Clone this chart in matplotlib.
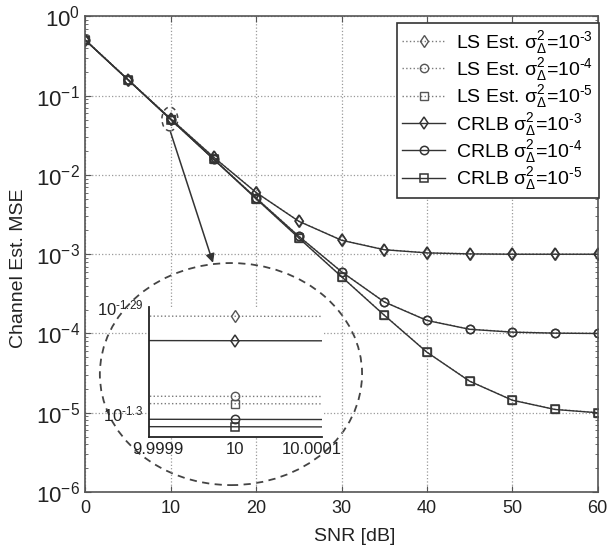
#!/usr/bin/env python3

import matplotlib
matplotlib.use('Agg')
import matplotlib.pyplot as plt
import matplotlib.ticker as ticker
from matplotlib.patches import Ellipse
import numpy as np

plt.rcParams.update({
    'font.family': ['Liberation Sans', 'DejaVu Sans'],
    'mathtext.fontset': 'custom',
    'mathtext.rm': 'Liberation Sans',
    'mathtext.it': 'Liberation Sans',
    'mathtext.sf': 'Liberation Sans',
    'xtick.direction': 'in',
    'ytick.direction': 'in',
})

# SNR grid [dB]
snr = [0, 5, 10, 15, 20, 25, 30, 35, 40, 45, 50, 55, 60]

# LS estimator MSE for the three error variances
ls_3 = [0.503, 0.160, 0.05118, 0.0169, 0.00603, 0.00261, 0.00151, 0.001145,
        0.001045, 0.001015, 0.001005, 0.001003, 0.001001]
ls_4 = [0.502, 0.159, 0.05030, 0.0160, 0.00513, 0.00169, 0.000603, 0.000251,
        0.000147, 0.0001135, 0.0001045, 0.0001015, 0.0001005]
ls_5 = [0.502, 0.159, 0.05022, 0.0159, 0.00503, 0.00161, 0.000523, 0.000171,
        5.83e-5, 2.51e-5, 1.446e-5, 1.105e-5, 1.005e-5]

# Cramer-Rao lower bounds
crlb_3 = [0.501, 0.159, 0.05091, 0.0168, 0.0060, 0.0026, 0.00150, 0.00114,
          0.00104, 0.00101, 0.00100, 0.00100, 0.00100]
crlb_4 = [0.500, 0.158, 0.05005, 0.0159, 0.0051, 0.00168, 0.00060, 0.00025,
          0.000146, 0.000113, 0.000104, 0.000101, 0.0001]
crlb_5 = [0.500, 0.158, 0.04997, 0.0158, 0.0050, 0.00160, 0.00052, 0.00017,
          5.8e-5, 2.5e-5, 1.44e-5, 1.1e-5, 1.0e-5]

exps = ['3', '4', '5']
markers = ['d', 'o', 's']
ls_labels = [r'LS Est. σ$_\Delta^2$=10$^{\text{-}%s}$' % e for e in exps]
crlb_labels = [r'CRLB σ$_\Delta^2$=10$^{\text{-}%s}$' % e for e in exps]

inset_xticks = [9.9999, 10.0, 10.0001]
inset_xticklabels = ['9.9999', '10', '10.0001']
inset_yexp = [-1.3, -1.29]
inset_ylabels = [r'10$^{\text{-}1.3}$', r'10$^{\text{-}1.29}$']

ls_col = '#7a7a7a'
crlb_col = '#333333'
ax_col = '#555555'

fig = plt.figure(figsize=(6.12, 5.55), dpi=100)
ax = fig.add_axes([0.1397, 0.1135, 0.8369, 0.8568])


def draw_curves(a):
    for y, m, lab in zip([ls_3, ls_4, ls_5], markers, ls_labels):
        a.plot(snr, y, ls=':', color=ls_col, lw=1.0, marker=m, ms=6.5 if m == 'd' else 6,
               mfc='none', mec='#555555', mew=1.0, label=lab)
    for y, m, lab in zip([crlb_3, crlb_4, crlb_5], markers, crlb_labels):
        a.plot(snr, y, ls='-', color=crlb_col, lw=1.0, marker=m, ms=6.5 if m == 'd' else 6,
               mfc='none', mec=crlb_col, mew=1.1, label=lab)


draw_curves(ax)
ax.set_yscale('log')
ax.set_xlim(0, 60)
ax.set_ylim(1e-6, 1)
ax.set_xticks(np.arange(0, 61, 10))
ax.grid(True, which='major', ls=':', color='#9a9a9a', lw=0.9)
ax.tick_params(which='both', top=True, right=True, colors=ax_col)
ax.tick_params(axis='x', labelsize=13, labelcolor='#222222', pad=6, length=4)
ax.tick_params(axis='y', which='major', labelsize=16, labelcolor='#222222', pad=4, length=4)
ax.tick_params(axis='y', which='minor', length=2)
for s in ax.spines.values():
    s.set_color(ax_col)
    s.set_linewidth(1.2)

ax.set_xlabel('SNR [dB]', fontsize=14, color='#222222')
ax.xaxis.set_label_coords(0.526, -0.075)
ax.set_ylabel('Channel Est. MSE', fontsize=14, color='#222222')
ax.yaxis.set_label_coords(-0.114, 0.471)

leg = ax.legend(loc='upper right', bbox_to_anchor=(1.002, 0.986), borderaxespad=0,
                fontsize=14, fancybox=False, framealpha=1, edgecolor='#333333',
                handlelength=2.2, handletextpad=0.55, labelspacing=0.02,
                borderpad=0.3)
leg.get_frame().set_linewidth(1.2)

# zoom marker around the 10 dB point and the pointer to the inset
ax.add_patch(Ellipse((0.1647, 0.7844), 0.031, 0.05, transform=ax.transAxes,
                     fill=False, ls=(0, (3, 2.5)), color='#444444', lw=1.1))
ax.add_patch(Ellipse((0.284, 0.248), 0.512, 0.467, transform=ax.transAxes,
                     fill=False, ls=(0, (4, 3)), color='#444444', lw=1.3))
ax.annotate('', xy=(0.249, 0.482), xytext=(0.166, 0.757), xycoords='axes fraction',
            arrowprops=dict(arrowstyle='-|>', color='#333333', lw=1.1,
                            mutation_scale=13, shrinkA=0, shrinkB=0))

# inset: curves around SNR = 10 dB
ins = fig.add_axes([0.2435, 0.2132, 0.2826, 0.2342])
draw_curves(ins)
ins.set_yscale('log')
ins.set_xlim(9.999888, 10.000113)
ins.set_ylim(10 ** -1.30222, 10 ** -1.29)
ins.set_xticks(inset_xticks)
ins.set_xticklabels(inset_xticklabels)
ins.set_yticks([10 ** e for e in inset_yexp])
ins.set_yticklabels(inset_ylabels)
ins.yaxis.set_minor_locator(ticker.NullLocator())
ins.tick_params(labelsize=12, length=0, pad=4, labelcolor='#222222')
ins.spines['top'].set_visible(False)
ins.spines['right'].set_visible(False)
for s in ['left', 'bottom']:
    ins.spines[s].set_color('#222222')
    ins.spines[s].set_linewidth(1.3)

fig.savefig('out.png', dpi=100)
